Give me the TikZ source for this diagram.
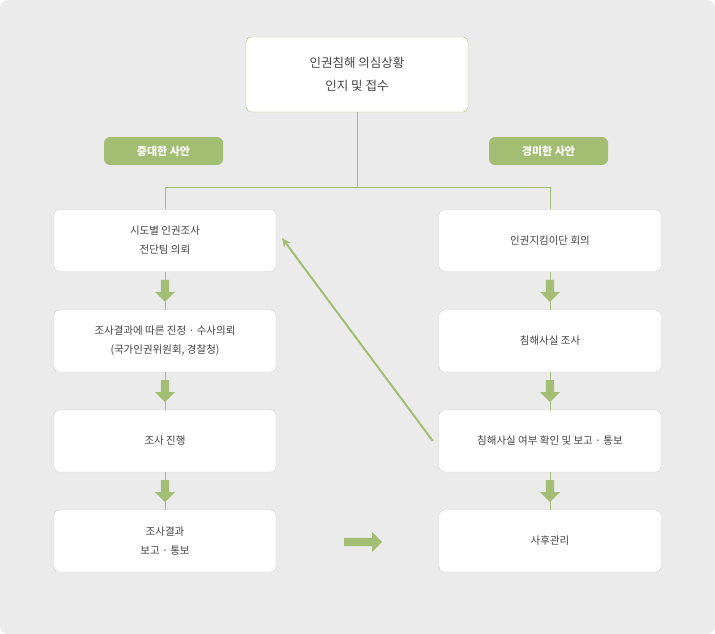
\documentclass[tikz,border=0pt]{standalone}
\usepackage{fontspec}
\newfontfamily\kr{Noto Sans CJK KR}
\usetikzlibrary{shapes,arrows,arrows.meta,positioning,calc}
\definecolor{leaf}{HTML}{A3BE72}
\definecolor{ink}{HTML}{444444}
\begin{document}
\begin{tikzpicture}[x=1pt,y=-1pt,
			box/.style={rectangle, rounded corners=5pt, draw=black!18, fill=white, minimum width=222pt, minimum height=62pt, align=center, font=\kr\fontsize{10.5}{19}\selectfont, text=ink},
			topbox/.style={box, draw=leaf, minimum height=75pt, font=\kr\fontsize{12.5}{23}\selectfont},
			tag/.style={rectangle, rounded corners=6pt, fill=leaf, minimum width=119pt, minimum height=28pt, font=\kr\bfseries\fontsize{11}{13}\selectfont, text=white},
			blockarrow/.style={single arrow, fill=leaf, minimum width=20pt, single arrow head extend=3pt, minimum height=22pt, inner sep=2pt, shape border rotate=270},
			link/.style={draw=leaf, thin}
		]
		\fill[black!8, rounded corners=8pt] (0,0) rectangle (715,634);

		% Top
		\node[topbox] (start) at (357,74.5) {인권침해 의심상황\\인지 및 접수};
		\node[tag] (major) at (163.5,151) {중대한 사안};
		\node[tag] (minor) at (548.5,151) {경미한 사안};

		% Left column
		\node[box] (l1) at (165,240.5) {시도별 인권조사\\전단팀 의뢰};
		\node[box] (l2) at (165,341) {조사결과에 따른 진정 · 수사의뢰\\(국가인권위원회, 경찰청)};
		\node[box] (l3) at (165,441) {조사 진행};
		\node[box] (l4) at (165,541) {조사결과\\보고 · 통보};

		% Right column
		\node[box] (r1) at (550,240.5) {인권지킴이단 회의};
		\node[box] (r2) at (550,341) {침해사실 조사};
		\node[box] (r3) at (550,441) {침해사실 여부 확인 및 보고 · 통보};
		\node[box] (r4) at (550,541) {사후관리};

		% Connections
		\coordinate (split) at (357,187);
		\draw[link] (start.south) -- (split);
		\draw[link] (split) -| (l1.north);
		\draw[link] (split) -| (r1.north);
		\foreach \a/\b in {l1/l2,l2/l3,l3/l4,r1/r2,r2/r3,r3/r4}{
			\draw[link] (\a.south) -- (\b.north);
			\node[blockarrow] at ($(\a.south)!0.45!(\b.north)$) {};
		}
		\node[single arrow, fill=leaf, minimum width=20pt, single arrow head extend=3pt, minimum height=38pt, inner sep=2pt] (jump) at (361,542) {};
		\coordinate (back) at (282,238);
		\draw[leaf, line width=2pt, -{Stealth[length=9pt,width=8pt]}] ($(r3.west)+(-6,0)$) -- (back);
	\end{tikzpicture}
\end{document}
